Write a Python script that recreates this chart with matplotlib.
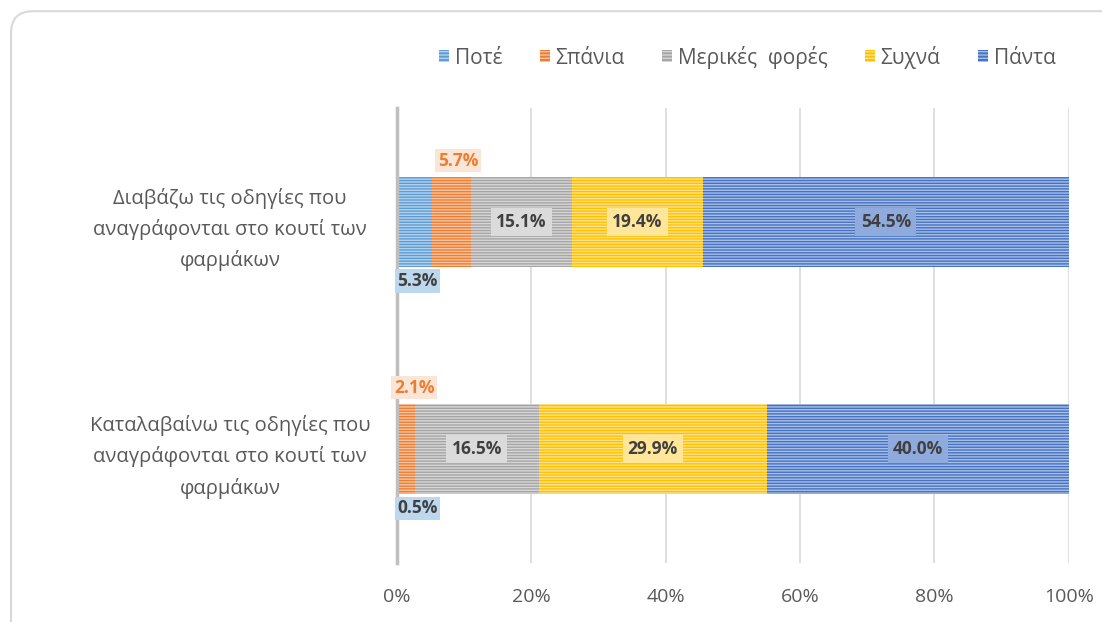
import matplotlib.pyplot as plt
import numpy as np
from matplotlib.patches import FancyBboxPatch, Patch

plt.rcParams['font.family'] = ['Open Sans', 'DejaVu Sans']
plt.rcParams['hatch.linewidth'] = 1.0

categories = ['Καταλαβαίνω τις οδηγίες που\nαναγράφονται στο κουτί των\nφαρμάκων',
              'Διαβάζω τις οδηγίες που\nαναγράφονται στο κουτί των\nφαρμάκων']
series = ['Ποτέ', 'Σπάνια', 'Μερικές  φορές', 'Συχνά', 'Πάντα']
# bar lengths as drawn (share of 100%)
shares = np.array([[0.5, 5.3],
                   [2.2, 5.7],
                   [18.4, 15.1],
                   [34.0, 19.4],
                   [44.9, 54.5]])
# printed data labels
labels = [['0.5%', '5.3%'],
          ['2.1%', '5.7%'],
          ['16.5%', '15.1%'],
          ['29.9%', '19.4%'],
          ['40.0%', '54.5%']]
colors = ['#5B9BD5', '#ED7D31', '#A5A5A5', '#FFC000', '#4472C4']
box_colors = ['#BDD7EE', '#FBE5D6', '#DBDBDB', '#FFE699', '#8FAADC']

fig = plt.figure(figsize=(11.02, 6.22), dpi=100)
frame = FancyBboxPatch((0.010, -0.05), 1.05, 1.032, boxstyle='round,pad=0,rounding_size=0.02',
                       transform=fig.transFigure, facecolor='white', edgecolor='#D9D9D9',
                       linewidth=1.5, mutation_aspect=1.77, zorder=-10)
fig.patches.append(frame)
ax = fig.add_axes([0.360, 0.095, 0.610, 0.731])
ax.patch.set_alpha(0)

y = np.arange(len(categories))
left = np.zeros(len(categories))
for i, name in enumerate(series):
    ax.barh(y, shares[i], left=left, height=0.396, color=colors[i],
            edgecolor=(1, 1, 1, 0.55), linewidth=0, hatch='------', zorder=3)
    for j in range(len(categories)):
        cx = left[j] + shares[i][j] / 2
        if i == 0:
            ax.text(left[j] + 0.1, y[j] - 0.26, labels[i][j], ha='left', va='center', fontsize=12.5,
                    fontweight='bold', color='#404040', zorder=5,
                    bbox=dict(boxstyle='square,pad=0.15', fc=box_colors[i], ec='none'))
        elif i == 1:
            ax.text(cx + 1.0, y[j] + 0.27, labels[i][j], ha='center', va='center', fontsize=12.5,
                    fontweight='bold', color='#ED7D31', zorder=5,
                    bbox=dict(boxstyle='square,pad=0.15', fc=box_colors[i], ec='none'))
        else:
            ax.text(cx, y[j], labels[i][j], ha='center', va='center', fontsize=12.5,
                    fontweight='bold', color='#404040', zorder=5,
                    bbox=dict(boxstyle='square,pad=0.3', fc=box_colors[i], ec='none'))
    left += shares[i]

ax.set_xlim(0, 100)
ax.set_ylim(-0.5, 1.5)
ax.set_xticks(np.arange(0, 101, 20))
ax.set_xticklabels([f'{v}%' for v in range(0, 101, 20)])
ax.set_yticks(y)
ax.set_yticklabels(categories, ha='center', fontsize=14.5, color='#595959', linespacing=1.65)
ax.tick_params(axis='y', length=0, pad=120)
ax.tick_params(axis='x', length=0, pad=18, labelsize=14, labelcolor='#595959')
ax.grid(axis='x', color='#D9D9D9', linewidth=1.2, zorder=0)
for s in ['top', 'right', 'bottom']:
    ax.spines[s].set_visible(False)
ax.spines['left'].set_color('#BFBFBF')
ax.spines['left'].set_linewidth(2.5)
ax.spines['left'].set_zorder(4)

handles = [Patch(facecolor=colors[i], edgecolor=(1, 1, 1, 0.55), linewidth=0, hatch='-----')
           for i in range(len(series))]
fig.legend(handles, series, loc='center', bbox_to_anchor=(0.678, 0.908), ncol=5, frameon=False,
           fontsize=15, handlelength=0.5, handleheight=0.5, handletextpad=0.25, columnspacing=1.8,
           labelcolor='#595959')

fig.savefig('out.png', dpi=100)
